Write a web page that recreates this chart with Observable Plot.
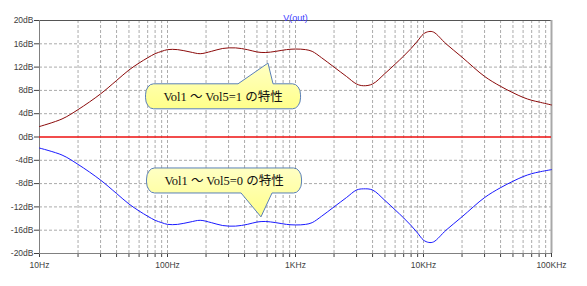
<!DOCTYPE html>
<html><head><meta charset="utf-8">
<script src="https://cdn.jsdelivr.net/npm/d3@7"></script>
<script src="https://cdn.jsdelivr.net/npm/@observablehq/plot@0.6"></script>
<style>
html,body{margin:0;padding:0;background:#fff;}
#chart svg{display:block;}
</style>
</head><body><div id="chart"></div>
<script>
const title = "V(out)";
const freqs = [10, 15, 20, 30, 40, 50, 60, 70, 80, 90, 100, 120, 150, 180, 220, 270, 340, 420, 500, 580, 700, 850, 1000, 1200, 1350, 1600, 2000, 2500, 3000, 3400, 4000, 5000, 6000, 7000, 8000, 9000, 10000, 11000, 12000, 15000, 20000, 30000, 40000, 50000, 60000, 70000, 80000, 100000];
const vol1Db = [1.8, 3.1, 4.7, 7.4, 9.7, 11.5, 12.7, 13.6, 14.3, 14.7, 15.0, 15.0, 14.6, 14.3, 14.7, 15.2, 15.3, 15.0, 14.6, 14.5, 14.7, 15.0, 15.1, 15.0, 14.7, 13.6, 12.0, 10.4, 9.1, 8.8, 9.1, 10.9, 12.5, 13.9, 15.2, 16.5, 17.7, 18.1, 18.0, 16.0, 13.7, 10.4, 8.7, 7.6, 6.8, 6.3, 6.0, 5.5];
const vol0Db = [-1.9, -3.1, -4.7, -7.4, -9.7, -11.5, -12.7, -13.6, -14.3, -14.7, -15.0, -15.0, -14.6, -14.3, -14.7, -15.2, -15.3, -15.0, -14.6, -14.5, -14.7, -15.0, -15.1, -15.0, -14.7, -13.6, -12.0, -10.4, -9.1, -8.9, -9.1, -10.9, -12.5, -13.9, -15.2, -16.5, -17.7, -18.1, -18.0, -16.0, -13.7, -10.4, -8.7, -7.6, -6.8, -6.3, -6.0, -5.6];
const yTicks = [20, 16, 12, 8, 4, 0, -4, -8, -12, -16, -20];
const xDecades = [10, 100, 1000, 10000, 100000];
const xTickLabels = ["10Hz", "100Hz", "1KHz", "10KHz", "100KHz"];
const calloutTexts = ["Vol1 ～ Vol5=1 の特性", "Vol1 ～ Vol5=0 の特性"];
const calloutFreq = [274, 279];
const calloutDb = [6.9, -7.55];
const calloutTipFreq = [615, 542];
const calloutTipDb = [12.6, -13.8];

const series = [
  ...freqs.map((f, i) => ({f, db: vol1Db[i], s: "vol1"})),
  ...freqs.map((f, i) => ({f, db: vol0Db[i], s: "vol0"}))
];
const allTicks = d3.scaleLog().domain([10, 100000]).ticks();
const gridFreqs = allTicks.filter(f => f > 10 && f < 100000);
const gridDb = yTicks.filter(v => v !== 20 && v !== -20 && v !== 0);

const chart = Plot.plot({
  width: 587,
  height: 286,
  marginLeft: 39,
  marginRight: 36,
  marginTop: 20,
  marginBottom: 33,
  style: {fontFamily: "'Liberation Sans', Arial, sans-serif", fontSize: "8.5px", color: "#404040", background: "#fff"},
  x: {type: "log", domain: [10, 100000], ticks: allTicks, tickSize: 4, tickPadding: 4,
      tickFormat: d => { const i = xDecades.indexOf(d); return i >= 0 ? xTickLabels[i] : ""; }, label: null},
  y: {domain: [-20, 20], ticks: yTicks, tickSize: 5, tickPadding: 1, tickFormat: d => d + "dB", label: null},
  marks: [
    Plot.ruleX(gridFreqs, {stroke: "#ababab", strokeDasharray: "3,2", strokeWidth: 1}),
    Plot.ruleY(gridDb, {stroke: "#ababab", strokeDasharray: "3,2", strokeWidth: 1}),
    Plot.ruleY([20], {stroke: "#555"}),
    Plot.ruleY([-20], {stroke: "#808080"}),
    Plot.ruleX([10], {stroke: "#808080"}),
    Plot.ruleX([100000], {stroke: "#a8a8a8", strokeWidth: 2}),
    Plot.ruleY([0], {stroke: "#ee1111", strokeWidth: 1.6}),
    Plot.line(series.filter(d => d.s === "vol1"), {x: "f", y: "db", stroke: "#8b0a0a", strokeWidth: 1, curve: "catmull-rom"}),
    Plot.line(series.filter(d => d.s === "vol0"), {x: "f", y: "db", stroke: "#1a1aff", strokeWidth: 1, curve: "catmull-rom"}),
    Plot.text([title], {frameAnchor: "top", dy: -6, fill: "#3b3bff", fontSize: 9})
  ]
});
document.getElementById("chart").appendChild(chart);

// callouts (annotation bubbles) positioned in data space via the plot's scales
const xs = chart.scale("x"), ys = chart.scale("y");
const X = xs.apply ? v => xs.apply(v) : d3.scaleLog().domain(xs.domain).range(xs.range);
const Y = ys.apply ? v => ys.apply(v) : d3.scaleLinear().domain(ys.domain).range(ys.range);
const svg = d3.select(chart.tagName.toLowerCase() === "svg" ? chart : chart.querySelector("svg"));
const defs = svg.append("defs");
const grad = defs.append("linearGradient").attr("id", "bubbleFill").attr("x1", 0).attr("y1", 0).attr("x2", 0).attr("y2", 1);
grad.append("stop").attr("offset", "0%").attr("stop-color", "#ffffc4");
grad.append("stop").attr("offset", "100%").attr("stop-color", "#ffff8a");
const W = 155, H = 25, rx = 8, ry = 11;
calloutTexts.forEach((t, i) => {
  const cx = X(calloutFreq[i]), cy = Y(calloutDb[i]);
  const tx = X(calloutTipFreq[i]), ty = Y(calloutTipDb[i]);
  const x0 = cx - W / 2, x1 = cx + W / 2, y0 = cy - H / 2, y1 = cy + H / 2;
  const b1 = cx + 15, b2 = cx + 50;
  let p;
  const arc = (x, y) => `A${rx},${ry} 0 0 1 ${x},${y}`;
  if (ty < cy) {
    p = `M${x0 + rx},${y0} L${b1},${y0} L${tx},${ty} L${b2},${y0} L${x1 - rx},${y0} ${arc(x1, y0 + ry)} L${x1},${y1 - ry} ${arc(x1 - rx, y1)} L${x0 + rx},${y1} ${arc(x0, y1 - ry)} L${x0},${y0 + ry} ${arc(x0 + rx, y0)} Z`;
  } else {
    p = `M${x0 + rx},${y0} L${x1 - rx},${y0} ${arc(x1, y0 + ry)} L${x1},${y1 - ry} ${arc(x1 - rx, y1)} L${b2 - 2},${y1} L${tx},${ty} L${b1 + 2},${y1} L${x0 + rx},${y1} ${arc(x0, y1 - ry)} L${x0},${y0 + ry} ${arc(x0 + rx, y0)} Z`;
  }
  svg.append("path").attr("d", p).attr("fill", "url(#bubbleFill)").attr("stroke", "#5a80b8").attr("stroke-width", 1);
  svg.append("text").attr("x", cx).attr("y", cy + 1.5).attr("text-anchor", "middle").attr("dominant-baseline", "middle")
    .attr("font-family", "'Liberation Serif', 'Times New Roman', 'Noto Sans CJK JP', serif")
    .attr("font-size", "12.5px").attr("fill", "#111").text(t);
});
</script>
</body></html>
